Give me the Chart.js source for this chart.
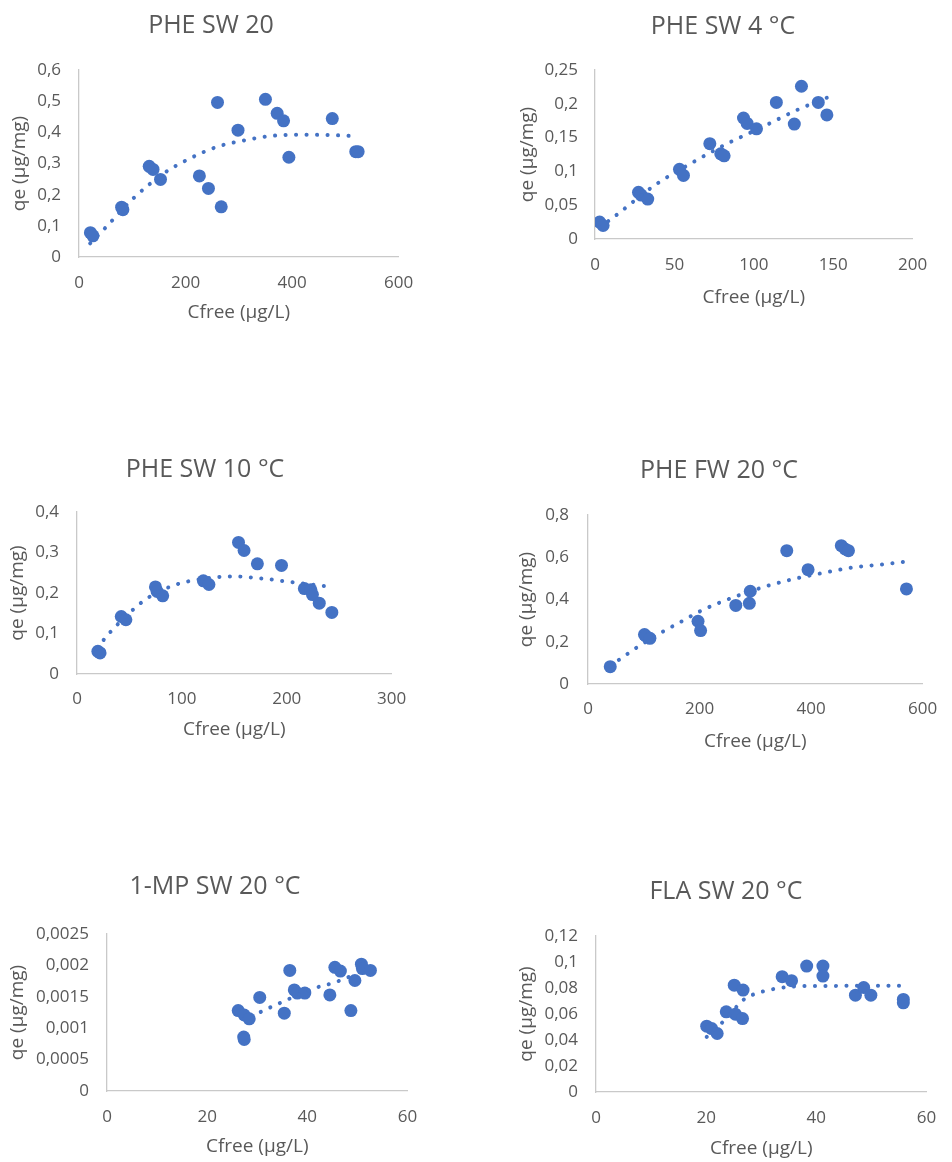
<!DOCTYPE html>
<html lang="en">
<head>
  <meta charset="UTF-8" />
  <title>Sorption isotherms</title>
  <script src="https://cdn.jsdelivr.net/npm/chart.js"></script>
  <style>
    html, body { margin: 0; padding: 0; background: #fff; overflow: hidden; }
    body { width: 952px; height: 1162px; position: relative; }
    canvas { position: absolute; }
  </style>
</head>
<body>
  <script>
    // ---- data ----
    // PHE SW 20
    const pheSw20X = [21.4, 26.2, 80, 82.4, 131.8, 139, 153, 226, 243, 260, 267, 298.5, 350, 372, 384, 394, 475.5, 519.5, 524];
    const pheSw20Y = [0.078, 0.068, 0.160, 0.152, 0.291, 0.281, 0.249, 0.260, 0.220, 0.496, 0.161, 0.407, 0.506, 0.461, 0.437, 0.320, 0.444, 0.338, 0.338];
    const pheSw20TrendX = [21, 48, 100, 159, 208, 260, 307, 363, 420, 477, 515];
    const pheSw20TrendY = [0.044, 0.091, 0.185, 0.268, 0.316, 0.354, 0.373, 0.389, 0.392, 0.391, 0.388];
    const pheSw20XTicks = [0, 200, 400, 600];
    const pheSw20YTicks = [0, 0.1, 0.2, 0.3, 0.4, 0.5, 0.6];

    // PHE SW 4 °C
    const pheSw4X = [2.9, 5.1, 27.4, 29.1, 33.2, 53.2, 55.7, 72.3, 79.2, 81.3, 93.5, 95.8, 101.7, 114.2, 125.5, 130, 140.6, 146];
    const pheSw4Y = [0.025, 0.020, 0.069, 0.065, 0.059, 0.103, 0.094, 0.141, 0.126, 0.123, 0.179, 0.171, 0.163, 0.202, 0.170, 0.226, 0.202, 0.1835];
    const pheSw4TrendX = [3, 12.7, 37.9, 59.8, 82.3, 104.8, 128.3, 146];
    const pheSw4TrendY = [0.017, 0.034, 0.080, 0.111, 0.140, 0.165, 0.192, 0.209];
    const pheSw4XTicks = [0, 50, 100, 150, 200];
    const pheSw4YTicks = [0, 0.05, 0.1, 0.15, 0.2, 0.25];

    // PHE SW 10 °C
    const pheSw10X = [19.9, 22, 42.2, 46.6, 74.8, 76.4, 81.7, 120.5, 125.8, 154, 159.3, 172, 195, 216.8, 223, 224.5, 231, 243];
    const pheSw10Y = [0.056, 0.052, 0.142, 0.134, 0.215, 0.204, 0.193, 0.230, 0.221, 0.325, 0.305, 0.272, 0.268, 0.211, 0.208, 0.196, 0.175, 0.152];
    const pheSw10TrendX = [19, 32.3, 52.2, 67, 92.5, 120, 148, 176, 204, 243];
    const pheSw10TrendY = [0.064, 0.105, 0.156, 0.187, 0.219, 0.235, 0.241, 0.236, 0.227, 0.215];
    const pheSw10XTicks = [0, 100, 200, 300];
    const pheSw10YTicks = [0, 0.1, 0.2, 0.3, 0.4];

    // PHE FW 20 °C
    const pheFw20X = [39.9, 101.3, 104.1, 111, 197.3, 201.9, 265, 289.3, 291, 356.4, 394.6, 454.2, 461, 467, 571];
    const pheFw20Y = [0.082, 0.234, 0.226, 0.216, 0.297, 0.253, 0.372, 0.382, 0.439, 0.631, 0.541, 0.655, 0.639, 0.631, 0.450];
    const pheFw20TrendX = [40, 56, 86, 133, 165, 197, 230, 315, 368.6, 421, 475.6, 529, 566];
    const pheFw20TrendY = [0.085, 0.115, 0.170, 0.246, 0.292, 0.339, 0.379, 0.459, 0.497, 0.5255, 0.552, 0.5665, 0.578];
    const pheFw20XTicks = [0, 200, 400, 600];
    const pheFw20YTicks = [0, 0.2, 0.4, 0.6, 0.8];

    // 1-MP SW 20 °C
    const mpSw20X = [26.2, 27.4, 28.4, 27.3, 27.4, 30.5, 35.4, 36.5, 37.4, 38, 39.5, 44.5, 45.5, 46.6, 48.7, 49.5, 50.8, 51, 52.6];
    const mpSw20Y = [0.00128, 0.00121, 0.00115, 0.00086, 0.00082, 0.00149, 0.00124, 0.00192, 0.00161, 0.00156, 0.00156, 0.00153, 0.00197, 0.00191, 0.00128, 0.00176, 0.00202, 0.00195, 0.00192];
    const mpSw20TrendX = [30.7, 34.5, 41.6, 45.5, 50];
    const mpSw20TrendY = [0.00126, 0.00140, 0.00164, 0.00173, 0.00187];
    const mpSw20XTicks = [0, 20, 40, 60];
    const mpSw20YTicks = [0, 0.0005, 0.001, 0.0015, 0.002, 0.0025];

    // FLA SW 20 °C
    const flaSw20X = [20.1, 21, 22, 23.65, 25.1, 25.3, 26.7, 26.6, 33.8, 35.5, 38.25, 41.2, 41.2, 47.1, 48.6, 49.9, 55.8, 55.8];
    const flaSw20Y = [0.0506, 0.0488, 0.045, 0.0617, 0.0822, 0.0599, 0.0784, 0.0565, 0.0887, 0.0856, 0.0969, 0.0969, 0.0892, 0.0745, 0.0804, 0.0745, 0.0712, 0.0686];
    const flaSw20TrendX = [20.1, 24, 26.5, 28.3, 31.9, 35, 38, 55.5];
    const flaSw20TrendY = [0.0424, 0.058, 0.070, 0.0745, 0.0789, 0.0808, 0.0815, 0.0817];
    const flaSw20XTicks = [0, 20, 40, 60];
    const flaSw20YTicks = [0, 0.02, 0.04, 0.06, 0.08, 0.1, 0.12];

    // ---- panel layout (page px): plot box, title centre, label positions ----
    const panels = [
      { title: 'PHE SW 20',     x: pheSw20X,  y: pheSw20Y,  tx: pheSw20TrendX,  ty: pheSw20TrendY,  xt: pheSw20XTicks,  yt: pheSw20YTicks,
        L: 79,  T: 70,  R: 407, B: 257,  titleX: 211, titleY: 26,  yTickRight: 61,  xTickY: 283,  xTitleY: 313,  yTitleX: 20,  left: 0 },
      { title: 'PHE SW 4 °C',   x: pheSw4X,   y: pheSw4Y,   tx: pheSw4TrendX,   ty: pheSw4TrendY,   xt: pheSw4XTicks,   yt: pheSw4YTicks,
        L: 595, T: 70,  R: 921, B: 239,  titleX: 723, titleY: 27,  yTickRight: 578, xTickY: 265,  xTitleY: 298,  yTitleX: 528, left: 500 },
      { title: 'PHE SW 10 °C',  x: pheSw10X,  y: pheSw10Y,  tx: pheSw10TrendX,  ty: pheSw10TrendY,  xt: pheSw10XTicks,  yt: pheSw10YTicks,
        L: 77,  T: 512, R: 399, B: 674,  titleX: 205, titleY: 470, yTickRight: 59,  xTickY: 699,  xTitleY: 730,  yTitleX: 18,  left: 0 },
      { title: 'PHE FW 20 °C',  x: pheFw20X,  y: pheFw20Y,  tx: pheFw20TrendX,  ty: pheFw20TrendY,  xt: pheFw20XTicks,  yt: pheFw20YTicks,
        L: 588, T: 515, R: 933, B: 684,  titleX: 719, titleY: 471, yTickRight: 569, xTickY: 709,  xTitleY: 742,  yTitleX: 527, left: 500 },
      { title: '1-MP SW 20 °C', x: mpSw20X,   y: mpSw20Y,   tx: mpSw20TrendX,   ty: mpSw20TrendY,   xt: mpSw20XTicks,   yt: mpSw20YTicks,
        L: 107, T: 934, R: 411, B: 1091, titleX: 215, titleY: 887, yTickRight: 89,  xTickY: 1117, xTitleY: 1147, yTitleX: 18,  left: 0 },
      { title: 'FLA SW 20 °C',  x: flaSw20X,  y: flaSw20Y,  tx: flaSw20TrendX,  ty: flaSw20TrendY,  xt: flaSw20XTicks,  yt: flaSw20YTicks,
        L: 596, T: 936, R: 932, B: 1092, titleX: 726, titleY: 892, yTickRight: 578, xTickY: 1118, xTitleY: 1149, yTitleX: 527, left: 500 }
    ];

    const FONT = "'Open Sans', 'Noto Sans', sans-serif";
    const TEXT = '#595959';
    const BLUE = '#4472C4';
    const AXIS = '#C9C9C9';
    const TICK_SIZE = 17, AXT_SIZE = 19, TITLE_SIZE = 25;

    const fmt = v => parseFloat(Number(v).toFixed(6)).toString().replace('.', ',');
    const pts = (xs, ys) => xs.map((v, i) => ({ x: v, y: ys[i] }));

    // draws the panel title at a fixed spot
    const titlePlugin = {
      id: 'panelTitle',
      afterDraw(chart, args, opts) {
        const ctx = chart.ctx;
        ctx.save();
        ctx.font = TITLE_SIZE + 'px ' + FONT;
        ctx.fillStyle = TEXT;
        ctx.textAlign = 'center';
        ctx.textBaseline = 'middle';
        ctx.fillText(opts.text, opts.x, opts.y);
        ctx.restore();
      }
    };

    panels.forEach(p => {
      const top = p.T - 70;
      const width = Math.min(952 - p.left, p.R + 22 - p.left);
      const height = p.xTitleY + 22 - top;

      const canvas = document.createElement('canvas');
      canvas.width = width;
      canvas.height = height;
      canvas.style.left = p.left + 'px';
      canvas.style.top = top + 'px';
      canvas.style.width = width + 'px';
      canvas.style.height = height + 'px';
      document.body.appendChild(canvas);

      const tickLH = TICK_SIZE * 1.2, axtLH = AXT_SIZE * 1.2;
      const xAxisH = top + height - p.B;

      new Chart(canvas, {
        type: 'scatter',
        data: {
          datasets: [
            {
              label: 'trend',
              data: pts(p.tx, p.ty),
              showLine: true,
              borderColor: BLUE,
              borderWidth: 4,
              borderDash: [0.1, 10.4],
              borderCapStyle: 'round',
              cubicInterpolationMode: 'monotone',
              pointRadius: 0,
              pointHoverRadius: 0,
              fill: false
            },
            {
              label: 'qe',
              data: pts(p.x, p.y),
              backgroundColor: BLUE,
              borderWidth: 0,
              pointRadius: 6.5,
              pointHoverRadius: 6.5
            }
          ]
        },
        plugins: [titlePlugin],
        options: {
          responsive: false,
          devicePixelRatio: 1,
          animation: false,
          events: [],
          layout: { padding: { left: 0, bottom: 0, top: p.T - top, right: p.left + width - p.R } },
          plugins: {
            legend: { display: false },
            tooltip: { enabled: false },
            panelTitle: { text: p.title, x: p.titleX - p.left, y: p.titleY - top }
          },
          scales: {
            x: {
              type: 'linear',
              min: p.xt[0],
              max: p.xt[p.xt.length - 1],
              afterBuildTicks: s => { s.ticks = p.xt.map(v => ({ value: v })); },
              afterFit: s => { s.height = xAxisH; },
              grid: { display: false, drawTicks: false },
              border: { display: true, color: AXIS, width: 1.3 },
              ticks: {
                color: TEXT,
                font: { family: FONT, size: TICK_SIZE },
                padding: p.xTickY - p.B - tickLH / 2,
                maxRotation: 0,
                autoSkip: false,
                callback: v => fmt(v)
              },
              title: {
                display: true,
                text: 'Cfree (µg/L)',
                color: TEXT,
                font: { family: FONT, size: AXT_SIZE },
                padding: { top: 0, bottom: top + height - p.xTitleY - axtLH / 2 }
              }
            },
            y: {
              type: 'linear',
              min: p.yt[0],
              max: p.yt[p.yt.length - 1],
              afterBuildTicks: s => { s.ticks = p.yt.map(v => ({ value: v })); },
              afterFit: s => { s.width = p.L - p.left; },
              grid: { display: false, drawTicks: false },
              border: { display: true, color: AXIS, width: 1.3 },
              ticks: {
                color: TEXT,
                font: { family: FONT, size: TICK_SIZE },
                padding: p.L - p.yTickRight,
                autoSkip: false,
                callback: v => fmt(v)
              },
              title: {
                display: true,
                text: 'qe (µg/mg)',
                color: TEXT,
                font: { family: FONT, size: AXT_SIZE },
                padding: { top: p.yTitleX - p.left - axtLH / 2, bottom: 0 }
              }
            }
          }
        }
      });
    });
  </script>
</body>
</html>
